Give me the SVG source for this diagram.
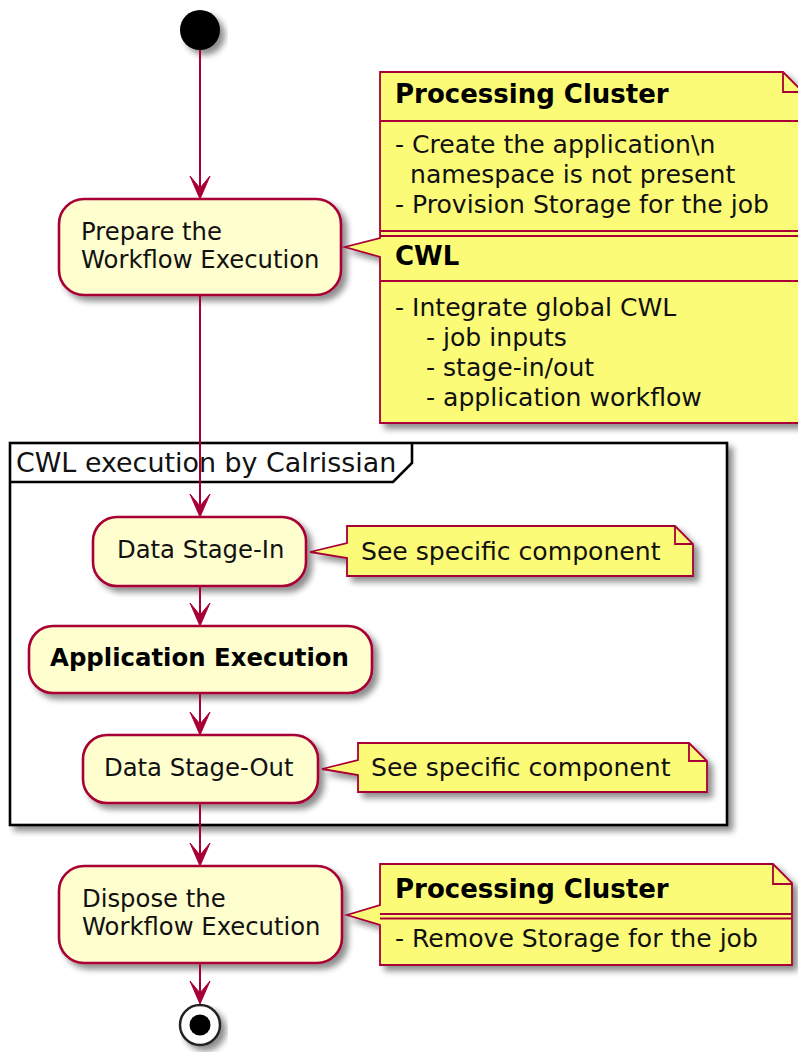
<svg xmlns="http://www.w3.org/2000/svg" width="798" height="1052" viewBox="0 0 798 1052">
<defs>
<filter id="sh" x="-10%" y="-10%" width="130%" height="140%">
<feGaussianBlur in="SourceAlpha" stdDeviation="3"/>
<feOffset dx="5" dy="5" result="b"/>
<feComponentTransfer><feFuncA type="linear" slope="0.45"/></feComponentTransfer>
<feMerge><feMergeNode/><feMergeNode in="SourceGraphic"/></feMerge>
</filter>
</defs>
<style>
.act{fill:#FEFECE;stroke:#A80036;stroke-width:2.6}
.note{fill:#FBFB77;stroke:#A80036;stroke-width:1.8}
.sep{stroke:#A80036;stroke-width:1.8;fill:none}
.t{font-family:"DejaVu Sans",sans-serif;font-size:24.3px;fill:#111}
.tb{font-family:"DejaVu Sans",sans-serif;font-size:24.4px;font-weight:bold;fill:#000}
.n{font-family:"DejaVu Sans",sans-serif;font-size:25.1px;fill:#111}
.nb{font-family:"DejaVu Sans",sans-serif;font-size:26px;font-weight:bold;fill:#000}
.ft{font-family:"DejaVu Sans",sans-serif;font-size:26.9px;fill:#111}
.ln{stroke:#A80036;stroke-width:2;fill:none}
.ah{fill:#A80036;stroke:#A80036;stroke-width:1}
</style>

<g id="frame">
<rect x="10" y="443" width="717" height="382" fill="#ffffff" stroke="#000" stroke-width="2.6" filter="url(#sh)"/>
<path d="M412,443 L412,463 L393,482 L10,482" fill="none" stroke="#000" stroke-width="2.6"/>
<text class="ft" x="16" y="472">CWL execution by Calrissian</text>
</g>

<g id="start">
<circle cx="200" cy="30" r="20" fill="#000" filter="url(#sh)"/>
</g>

<g id="prepare">
<rect class="act" x="59" y="199" width="282" height="96" rx="25" ry="25" filter="url(#sh)"/>
<text class="t" x="81" y="240">Prepare the</text>
<text class="t" x="81" y="268">Workflow Execution</text>
</g>

<g id="note-prepare">
<path class="note" d="M380,72 L783,72 L799,88 L799,423 L380,423 L380,257 L345,247 L380,238 Z" filter="url(#sh)"/>
<path class="sep" d="M783,72 L783,92 L799,92"/>
<line class="sep" x1="380" y1="121" x2="799" y2="121"/>
<line class="sep" x1="380" y1="231" x2="799" y2="231"/>
<line class="sep" x1="380" y1="236" x2="799" y2="236"/>
<line class="sep" x1="380" y1="281" x2="799" y2="281"/>
<text class="nb" x="395" y="103">Processing Cluster</text>
<text class="n" x="395" y="153">- Create the application\n</text>
<text class="n" x="410" y="183">namespace is not present</text>
<text class="n" x="395" y="213">- Provision Storage for the job</text>
<text class="nb" x="395" y="265">CWL</text>
<text class="n" x="395" y="316">- Integrate global CWL</text>
<text class="n" x="426" y="346">- job inputs</text>
<text class="n" x="426" y="376">- stage-in/out</text>
<text class="n" x="426" y="406">- application workflow</text>
</g>

<g id="stagein">
<rect class="act" x="93" y="517" width="213" height="69" rx="24" ry="24" filter="url(#sh)"/>
<text class="t" x="117" y="558">Data Stage-In</text>
</g>

<g id="note-stagein">
<path class="note" d="M347,526 L675,526 L693,544 L693,576 L347,576 L347,558 L310,552 L347,543 Z" filter="url(#sh)"/>
<path class="sep" d="M675,526 L675,544 L693,544"/>
<text class="n" x="361" y="560">See specific component</text>
</g>

<g id="appexec">
<rect class="act" x="29" y="626" width="343" height="67" rx="24" ry="24" filter="url(#sh)"/>
<text class="tb" x="50" y="666">Application Execution</text>
</g>

<g id="stageout">
<rect class="act" x="83" y="735" width="235" height="68" rx="24" ry="24" filter="url(#sh)"/>
<text class="t" x="104" y="776">Data Stage-Out</text>
</g>

<g id="note-stageout">
<path class="note" d="M358,743 L689,743 L707,761 L707,792 L358,792 L358,775 L322,769 L358,760 Z" filter="url(#sh)"/>
<path class="sep" d="M689,743 L689,761 L707,761"/>
<text class="n" x="371" y="776">See specific component</text>
</g>

<g id="dispose">
<rect class="act" x="59" y="866" width="283" height="97" rx="25" ry="25" filter="url(#sh)"/>
<text class="t" x="82" y="907">Dispose the</text>
<text class="t" x="82" y="935">Workflow Execution</text>
</g>

<g id="note-dispose">
<path class="note" d="M380,864 L773,864 L792,883 L792,965 L380,965 L380,925 L347,915 L380,905 Z" filter="url(#sh)"/>
<path class="sep" d="M773,864 L773,884 L792,884"/>
<line class="sep" x1="380" y1="914" x2="792" y2="914"/>
<line class="sep" x1="380" y1="918.5" x2="792" y2="918.5"/>
<text class="nb" x="395" y="898">Processing Cluster</text>
<text class="n" x="395" y="947">- Remove Storage for the job</text>
</g>

<g id="end">
<circle cx="200" cy="1025" r="20" fill="#fff" stroke="#222" stroke-width="2.5" filter="url(#sh)"/>
<circle cx="200" cy="1025" r="10.5" fill="#000"/>
</g>

<g id="connectors">
<line class="ln" x1="200" y1="50" x2="200" y2="190"/>
<polygon class="ah" points="190,176 200,199 210,176 200,188"/>
<line class="ln" x1="200" y1="295" x2="200" y2="508"/>
<polygon class="ah" points="190,494 200,517 210,494 200,506"/>
<line class="ln" x1="200" y1="586" x2="200" y2="617"/>
<polygon class="ah" points="190,603 200,626 210,603 200,615"/>
<line class="ln" x1="200" y1="693" x2="200" y2="726"/>
<polygon class="ah" points="190,712 200,735 210,712 200,724"/>
<line class="ln" x1="200" y1="803" x2="200" y2="857"/>
<polygon class="ah" points="190,843 200,866 210,843 200,855"/>
<line class="ln" x1="200" y1="963" x2="200" y2="995"/>
<polygon class="ah" points="190,981 200,1004 210,981 200,993"/>
</g>
</svg>
